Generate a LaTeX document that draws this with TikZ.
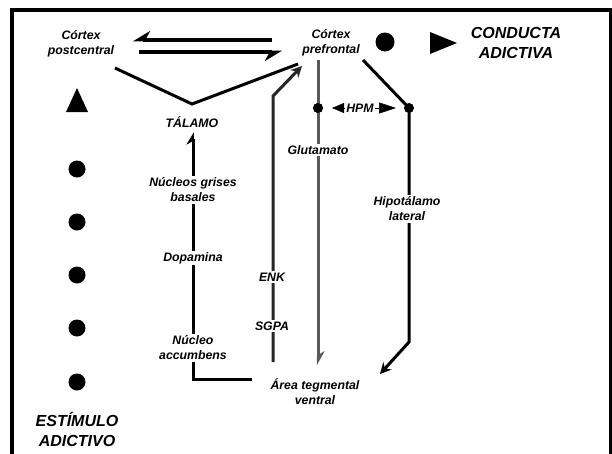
\documentclass[tikz,border=0pt]{standalone}
\usepackage{fontspec}
\setmainfont{Liberation Sans}
\usetikzlibrary{arrows.meta}
\begin{document}
\begin{tikzpicture}[x=1pt,y=-1pt,
  lbl/.style={font=\fontsize{12.3}{15}\selectfont\bfseries\itshape, align=center, fill=white, inner sep=1.5pt},
  biglbl/.style={font=\fontsize{16}{20}\selectfont\bfseries\itshape, align=center, inner sep=0pt},
  ln/.style={line width=3pt, line join=miter},
  thk/.style={line width=4pt},
  dotmark/.style={circle, fill=black, inner sep=0pt, minimum size=#1},
  tipS/.style={-{Stealth[length=11pt,width=11pt]}},
  harp/.style={-{Stealth[harpoon,swap,length=15pt,width=18pt]}},
]
\useasboundingbox (0,0) rectangle (612,453);
\clip (0,0) rectangle (612,453);
% frame
\draw[line width=3.5pt] (12,470) -- (12,10) -- (611,10) -- (611,470);

% labels
\node[lbl] (post) at (81,44) {Córtex\\postcentral};
\node[lbl, fill=none] (pref) at (331,43) {Córtex\\prefrontal};
\node[biglbl] (cond) at (516,43) {CONDUCTA\\ADICTIVA};
\node[biglbl] (estim) at (77,430) {ESTÍMULO\\ADICTIVO};

% coordinates
\coordinate (hA1) at (272,40);
\coordinate (hA2) at (133,40);
\coordinate (hB1) at (139,52);
\coordinate (hB2) at (282,52);
\coordinate (vL) at (115,68);
\coordinate (vM) at (192,104);
\coordinate (vR) at (298,64);
\coordinate (pfTip) at (302,66);
\coordinate (enkTop) at (273,96);
\coordinate (enkBot) at (273,362);
\coordinate (nacCorner) at (193,379);
\coordinate (atvW) at (252,379);
\coordinate (talBot) at (193,132);
\coordinate (gluTop) at (318,60);
\coordinate (gluBot) at (318,365);
\coordinate (hipTop) at (363,60);
\coordinate (hipCorner) at (409,342);
\coordinate (hipTip) at (380,374);

% harpoons between cortices
\draw[thk, harp] (hA1) -- (hA2);
\draw[thk, harp] (hB1) -- (hB2);

% V via thalamus
\draw[ln] (vL) -- (vM) -- (vR);

% thalamus / basal ganglia line
\draw[ln, -{Stealth[harpoon,length=11pt,width=13pt]}] (atvW) -- (nacCorner) -- (talBot);

% ENK / SGPA line
\draw[ln, black!85, tipS] (enkBot) -- (enkTop) -- (pfTip);

% glutamate line
\node[dotmark=10pt] (d1) at (318,108) {};
\draw[ln, black!65, -{Stealth[harpoon,length=12pt,width=13pt]}] (gluTop) -- (gluBot);
\node[dotmark=10pt] at (d1) {};

% hypothalamus line
\node[dotmark=10pt] (d2) at (409,108) {};
\draw[ln, tipS] (hipTop) -- (d2.center) -- (hipCorner) -- (hipTip);

% HPM
\node[lbl, inner sep=1pt] (hpm) at (360,108) {HPM};
\draw[line width=0.5pt, shorten >=14pt, -{Triangle[length=12pt,width=10pt]}] (hpm.west) -- (d1.center);
\draw[line width=0.5pt, shorten >=13pt, -{Triangle[length=17pt,width=11pt]}] (hpm.east) -- (d2.center);

% labels on lines
\node[lbl] (tal) at (192,122) {TÁLAMO};
\node[lbl] (ngb) at (193,190) {Núcleos grises\\basales};
\node[lbl] (dopa) at (193,258) {Dopamina};
\node[lbl] (nac) at (193,348) {Núcleo\\accumbens};
\node[lbl] (enk) at (272,277) {ENK};
\node[lbl] (sgpa) at (272,326) {SGPA};
\node[lbl] (glu) at (318,150) {Glutamato};
\node[lbl] (hip) at (407,209) {Hipotálamo\\lateral};
\node[lbl, fill=none] (atv) at (315,392) {Área tegmental\\ventral};

% top symbols
\node[dotmark=19pt] (bigdot) at (385,42) {};
\fill (430,32) -- (457,43) -- (430,54) -- cycle;

% left column
\fill (66,112) -- (77,88) -- (88,112) -- cycle;
\foreach \yy/\nm in {169/s1,222/s2,275/s3,328/s4,382/s5}
  \node[dotmark=17pt] (\nm) at (77,\yy) {};
\end{tikzpicture}
\end{document}
